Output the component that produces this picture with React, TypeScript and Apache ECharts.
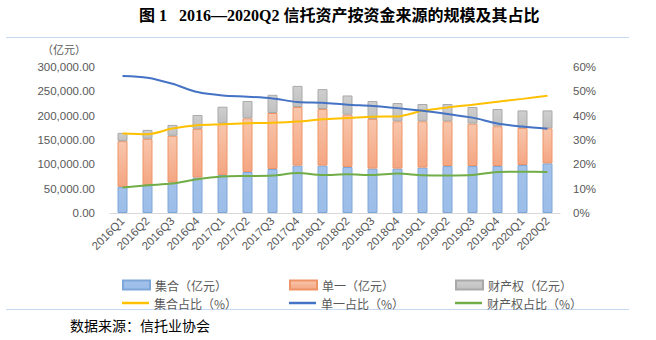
import React, { useEffect, useRef } from "react";
import * as echarts from "echarts";

const categories = [
  "2016Q1", "2016Q2", "2016Q3", "2016Q4", "2017Q1", "2017Q2", "2017Q3", "2017Q4",
  "2018Q1", "2018Q2", "2018Q3", "2018Q4", "2019Q1", "2019Q2", "2019Q3", "2019Q4",
  "2020Q1", "2020Q2",
];

// 亿元
const jiheValues = [53700, 57100, 62700, 72900, 78200, 84300, 90400, 97400, 97400, 94500, 91200, 91200, 93300, 96500, 96500, 96500, 98600, 102000];
const danyiValues = [93900, 95400, 95900, 100000, 106100, 110200, 115100, 120400, 116300, 107600, 102100, 97200, 95100, 91900, 87200, 81700, 76300, 72100];
const caichanValues = [17100, 18300, 22400, 28500, 34100, 35500, 37400, 43400, 40800, 39400, 36700, 37500, 35500, 35500, 34100, 35500, 35900, 36700];

// %
const jiheRatio = [32.7, 32.4, 34.7, 36.1, 36.5, 36.9, 37.1, 37.6, 38.5, 39.0, 39.6, 39.7, 42.0, 43.4, 44.5, 45.7, 46.9, 48.2];
const danyiRatio = [56.3, 55.6, 53.1, 49.7, 48.3, 47.8, 47.1, 45.6, 45.3, 44.5, 44.0, 43.1, 42.0, 40.7, 39.2, 36.8, 35.5, 34.6];
const caichanRatio = [10.5, 11.4, 12.1, 13.9, 15.0, 15.2, 15.4, 16.4, 15.6, 15.9, 15.6, 16.2, 15.5, 15.4, 15.6, 16.9, 17.0, 16.9];

const seriesNames = ["集合（亿元）", "单一（亿元）", "财产权（亿元）", "集合占比（%）", "单一占比（%）", "财产权占比（%）"];

const titleText = "图 1   2016—2020Q2 信托资产按资金来源的规模及其占比";
const unitText = "（亿元）";
const sourceText = "数据来源：信托业协会";

const grad = (top: string, bottom: string) =>
  new echarts.graphic.LinearGradient(0, 0, 0, 1, [
    { offset: 0, color: top },
    { offset: 1, color: bottom },
  ]);

export default function App() {
  const ref = useRef<HTMLDivElement>(null);

  useEffect(() => {
    if (!ref.current) return;
    const chart = echarts.init(ref.current, null, { renderer: "svg" });
    const axisFont = "'Liberation Sans', Arial, sans-serif";
    const cjkFont = "'Noto Sans CJK SC', sans-serif";
    const legendCommon = {
      orient: "horizontal" as const,
      icon: "rect",
      itemWidth: 27,
      textStyle: { color: "#595959", fontSize: 12, fontFamily: cjkFont },
      selectedMode: false,
    };
    const legendPos = [
      [117, 274], [284, 274], [450, 274],
      [117, 292], [284, 292], [450, 292],
    ];

    chart.setOption({
      animation: false,
      backgroundColor: "#ffffff",
      grid: { left: 110, right: 96, top: 67, bottom: 127 },
      legend: seriesNames.map((n, i) => ({
        ...legendCommon,
        data: [n],
        left: legendPos[i][0],
        top: legendPos[i][1],
        itemHeight: i < 3 ? 9 : 2.5,
      })),
      xAxis: {
        type: "category",
        data: categories,
        axisLine: { lineStyle: { color: "#D9D9D9", width: 1 } },
        axisTick: { show: false },
        axisLabel: {
          rotate: 45,
          interval: 0,
          margin: 6,
          color: "#595959",
          fontSize: 11.5,
          fontFamily: axisFont,
        },
      },
      yAxis: [
        {
          type: "value",
          min: 0,
          max: 300000,
          interval: 50000,
          splitLine: { show: false },
          axisLine: { show: false },
          axisTick: { show: false },
          axisLabel: {
            margin: 15,
            color: "#595959",
            fontSize: 11.5,
            fontFamily: axisFont,
            formatter: (v: number) =>
              v.toLocaleString("en-US", { minimumFractionDigits: 2, maximumFractionDigits: 2 }),
          },
        },
        {
          type: "value",
          min: 0,
          max: 60,
          interval: 10,
          splitLine: { show: false },
          axisLine: { show: false },
          axisTick: { show: false },
          axisLabel: {
            margin: 13,
            color: "#595959",
            fontSize: 11.5,
            fontFamily: axisFont,
            formatter: "{value}%",
          },
        },
      ],
      series: [
        {
          name: seriesNames[0],
          type: "bar",
          stack: "total",
          barWidth: 10,
          data: jiheValues,
          itemStyle: { color: grad("#A3C2EA", "#9BBDE8"), borderColor: "#7EA6D8", borderWidth: 1 },
        },
        {
          name: seriesNames[1],
          type: "bar",
          stack: "total",
          barWidth: 10,
          data: danyiValues,
          itemStyle: { color: grad("#F8C6AC", "#F4A682"), borderColor: "#EE9467", borderWidth: 1 },
        },
        {
          name: seriesNames[2],
          type: "bar",
          stack: "total",
          barWidth: 10,
          data: caichanValues,
          itemStyle: { color: grad("#CFCFCF", "#C0C0C0"), borderColor: "#A9A9A9", borderWidth: 1 },
        },
        {
          name: seriesNames[3],
          type: "line",
          yAxisIndex: 1,
          data: jiheRatio,
          smooth: 0.3,
          showSymbol: false,
          symbol: "none",
          itemStyle: { color: "#FFC000" },
          lineStyle: { color: "#FFC000", width: 2 },
        },
        {
          name: seriesNames[4],
          type: "line",
          yAxisIndex: 1,
          data: danyiRatio,
          smooth: 0.3,
          showSymbol: false,
          symbol: "none",
          itemStyle: { color: "#4472C4" },
          lineStyle: { color: "#4472C4", width: 2 },
        },
        {
          name: seriesNames[5],
          type: "line",
          yAxisIndex: 1,
          data: caichanRatio,
          smooth: 0.3,
          showSymbol: false,
          symbol: "none",
          itemStyle: { color: "#70AD47" },
          lineStyle: { color: "#70AD47", width: 2 },
        },
      ],
      graphic: [
        {
          type: "text",
          left: 139,
          top: 7,
          style: {
            text: titleText,
            fill: "#000000",
            font: "bold 16px 'Liberation Serif', 'Noto Sans CJK SC', serif",
          },
        },
        {
          type: "line",
          shape: { x1: 6, y1: 37.5, x2: 629, y2: 37.5 },
          style: { stroke: "#C5D9F1", lineWidth: 1 },
        },
        {
          type: "text",
          left: 42,
          top: 43,
          style: {
            text: unitText,
            fill: "#595959",
            font: "11px 'Noto Sans CJK SC', sans-serif",
          },
        },
        {
          type: "line",
          shape: { x1: 6, y1: 309.5, x2: 629, y2: 309.5 },
          style: { stroke: "#C5D9F1", lineWidth: 1 },
        },
        {
          type: "text",
          left: 70,
          top: 318,
          style: {
            text: sourceText,
            fill: "#000000",
            font: "14px 'Noto Sans CJK SC', sans-serif",
          },
        },
      ],
    });
    return () => chart.dispose();
  }, []);

  return (
    <div
      ref={ref}
      style={{ position: "fixed", left: 0, top: 0, width: 656, height: 340 }}
    />
  );
}
